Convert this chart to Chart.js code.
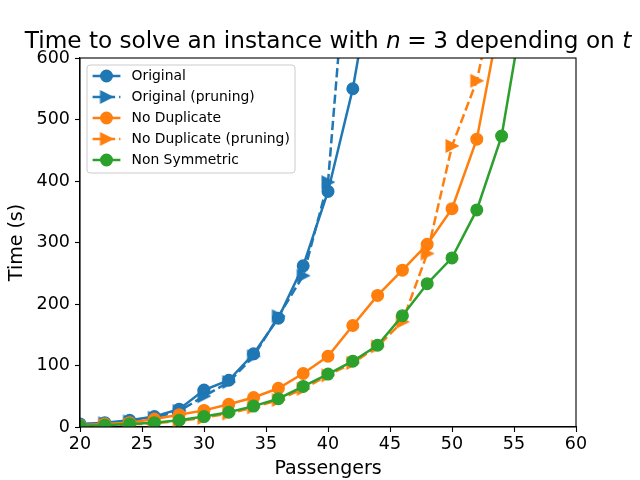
<!DOCTYPE html>
<html><head><meta charset="utf-8">
<script src="https://cdn.jsdelivr.net/npm/chart.js@4"></script>
<style>html,body{margin:0;padding:0;background:#fff}</style>
</head><body>
<canvas id="c" width="640" height="480" style="width:640px;height:480px;display:block"></canvas>
<script>
const passengers = [20,22,24,26,28,30,32,34,36,38,40,42,44,46,48,50,52,54,56];
const original = [5,7,11,17,29,60,76,119,177,262,383,550,780];
const originalPruning = [4,6,9,15,26,50,73,115,180,246,398,890];
const noDuplicate = [3,5,7,13,20,27,37,48,63,87,115,165,214,255,297,355,468,680];
const noDuplicatePruning = [2,3,4,6,10,15,22,32,44,62,84,104,131,171,282,457,563,750];
const nonSymmetric = [2,3,5,7,11,17,24,34,46,66,86,107,133,181,233,275,353,473,710];
const xTicks = [20,25,30,35,40,45,50,55,60];
const yTicks = [0,100,200,300,400,500,600];

const F = "'DejaVu Sans', sans-serif";
const C0 = '#1f77b4', C1 = '#ff7f0e', C2 = '#2ca02c';
const LW = 2.5;
const DASH = [3.7 * LW, 1.6 * LW];

function triImg(color){
  const c = document.createElement('canvas');
  c.width = 18; c.height = 18;
  const g = c.getContext('2d');
  const h = 5.8, m = 9;
  g.beginPath();
  g.moveTo(m + h, m); g.lineTo(m - h, m - h); g.lineTo(m - h, m + h); g.closePath();
  g.fillStyle = color; g.fill();
  g.lineWidth = 1.4; g.strokeStyle = color; g.lineJoin = 'miter'; g.stroke();
  return c;
}
function pts(arr){ return arr.map((v,i)=>({x: passengers[i], y: v})); }

function ds(label, arr, color, marker, dashed, order){
  return {
    label, data: pts(arr), borderColor: color, backgroundColor: color,
    pointBackgroundColor: color, pointBorderColor: color,
    pointStyle: marker === 'tri' ? triImg(color) : 'circle',
    pointRadius: 5.8, pointBorderWidth: 1.4, pointHoverRadius: 5.8,
    borderWidth: LW, borderDash: dashed ? DASH : [], tension: 0, order, fill: false
  };
}

const series = [
  ds('Original', original, C0, 'circle', false, 5),
  ds('Original (pruning)', originalPruning, C0, 'tri', true, 4),
  ds('No Duplicate', noDuplicate, C1, 'circle', false, 3),
  ds('No Duplicate (pruning)', noDuplicatePruning, C1, 'tri', true, 2),
  ds('Non Symmetric', nonSymmetric, C2, 'circle', false, 1)
];

const framePlugin = {
  id: 'frame',
  afterDatasetsDraw(chart){
    const {ctx, chartArea: a} = chart;
    ctx.save();
    ctx.strokeStyle = '#000'; ctx.lineWidth = 1.1;
    ctx.strokeRect(a.left, a.top, a.right - a.left, a.bottom - a.top);
    ctx.restore();
    // legend
    const bx = 87, by = 65, bw = 208, bh = 108, r = 3;
    ctx.save();
    ctx.beginPath();
    ctx.moveTo(bx + r, by); ctx.lineTo(bx + bw - r, by); ctx.quadraticCurveTo(bx + bw, by, bx + bw, by + r);
    ctx.lineTo(bx + bw, by + bh - r); ctx.quadraticCurveTo(bx + bw, by + bh, bx + bw - r, by + bh);
    ctx.lineTo(bx + r, by + bh); ctx.quadraticCurveTo(bx, by + bh, bx, by + bh - r);
    ctx.lineTo(bx, by + r); ctx.quadraticCurveTo(bx, by, bx + r, by);
    ctx.closePath();
    ctx.fillStyle = 'rgba(255,255,255,0.8)'; ctx.fill();
    ctx.strokeStyle = '#cccccc'; ctx.lineWidth = 1; ctx.stroke();
    ctx.font = '13.9px ' + F; ctx.fillStyle = '#000'; ctx.textBaseline = 'middle'; ctx.textAlign = 'left';
    series.forEach((s, i) => {
      const y = 76 + i * 21;
      ctx.save();
      ctx.strokeStyle = s.borderColor; ctx.lineWidth = LW; ctx.setLineDash(s.borderDash);
      ctx.beginPath(); ctx.moveTo(92.6, y); ctx.lineTo(120.4, y); ctx.stroke();
      ctx.setLineDash([]);
      if (typeof s.pointStyle === 'string') {
        ctx.beginPath(); ctx.arc(106.5, y, 5.8, 0, Math.PI * 2);
        ctx.fillStyle = s.borderColor; ctx.fill();
        ctx.lineWidth = 1.4; ctx.strokeStyle = s.borderColor; ctx.stroke();
      } else {
        ctx.drawImage(s.pointStyle, 106.5 - 9, y - 9);
      }
      ctx.restore();
      ctx.fillText(s.label, 131.5, y);
    });
    ctx.restore();
  },
  afterDraw(chart){
    const ctx = chart.ctx;
    const size = 23.2;
    const reg = size + 'px ' + F, ita = 'oblique ' + size + 'px ' + F;
    const sp = 0.28 * size;
    const parts = [
      [reg, 'Time to solve an instance with ', 0],
      [ita, 'n', sp], [reg, '=', sp], [reg, '3', 0],
      [reg, ' depending on ', 0], [ita, 't', 0]
    ];
    ctx.save();
    let total = 0;
    parts.forEach(p => { ctx.font = p[0]; total += ctx.measureText(p[1]).width + p[2]; });
    let x = 328 - total / 2;
    ctx.fillStyle = '#000'; ctx.textBaseline = 'alphabetic'; ctx.textAlign = 'left';
    parts.forEach(p => { ctx.font = p[0]; ctx.fillText(p[1], x, 48); x += ctx.measureText(p[1]).width + p[2]; });
    ctx.restore();
  }
};

function zeroPad(s){ s.paddingLeft = 0; s.paddingRight = 0; s.paddingTop = 0; s.paddingBottom = 0; }

new Chart(document.getElementById('c'), {
  type: 'line',
  data: { datasets: series },
  options: {
    responsive: false, animation: false, devicePixelRatio: 1,
    layout: { padding: { left: 0, right: 64, top: 58, bottom: 0 } },
    plugins: { legend: { display: false }, title: { display: false }, tooltip: { enabled: false } },
    scales: {
      x: {
        type: 'linear', min: 20, max: 60,
        afterBuildTicks(s){ s.ticks = xTicks.map(v => ({value: v})); },
        ticks: { font: { family: F, size: 17.5, lineHeight: 1 }, color: '#000', padding: 4, maxRotation: 0, autoSkip: false },
        grid: { drawOnChartArea: false, drawTicks: true, tickLength: 5, tickColor: '#000', tickWidth: 1.1 },
        border: { display: true, color: '#000', width: 1.1 },
        title: { display: true, text: 'Passengers', font: { family: F, size: 19 }, color: '#000', padding: { top: 0, bottom: 0 } },
        afterFit(s){ s.height = 53; zeroPad(s); }
      },
      y: {
        type: 'linear', min: 0, max: 600,
        afterBuildTicks(s){ s.ticks = yTicks.map(v => ({value: v})); },
        ticks: { font: { family: F, size: 17.5, lineHeight: 1 }, color: '#000', padding: 5, autoSkip: false },
        grid: { drawOnChartArea: false, drawTicks: true, tickLength: 5, tickColor: '#000', tickWidth: 1.1 },
        border: { display: true, color: '#000', width: 1.1 },
        title: { display: true, text: 'Time (s)', font: { family: F, size: 19 }, color: '#000', padding: { top: 6, bottom: 0 } },
        afterFit(s){ s.width = 80; zeroPad(s); }
      }
    }
  },
  plugins: [framePlugin]
});
</script>
</body></html>
